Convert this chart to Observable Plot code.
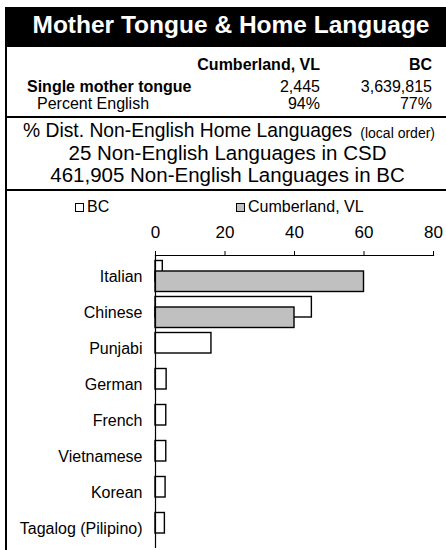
<!DOCTYPE html>
<html>
<head>
<meta charset="utf-8">
<script src="https://cdn.jsdelivr.net/npm/d3@7"></script>
<script src="https://cdn.jsdelivr.net/npm/@observablehq/plot@0.6"></script>
<style>
  html, body { margin: 0; padding: 0; background: #fff; }
  body { width: 446px; height: 550px; position: relative; overflow: hidden;
         font-family: "Liberation Sans", Arial, sans-serif; color: #000; }
  .abs { position: absolute; white-space: nowrap; line-height: 1; }
  .b { font-weight: bold; }
  .r { text-align: right; }
  .c { text-align: center; }
  #chart { position: absolute; left: 0; top: 215px; }
  .sw { display: inline-block; width: 7px; height: 7px; border: 1px solid #000; margin-right: 3px; vertical-align: 0px; }
</style>
</head>
<body>
<div id="root"></div>
<div id="chart"></div>
<script>
// ---- data ----
const title = "Mother Tongue & Home Language";
const regions = ["Cumberland, VL", "BC"];
const singleMotherTongue = [2445, 3639815];
const percentEnglish = [94, 77];
const nonEnglishLanguagesCSD = 25;
const nonEnglishLanguagesBC = 461905;
const languages = ["Italian", "Chinese", "Punjabi", "German", "French", "Vietnamese", "Korean", "Tagalog (Pilipino)"];
const bcShare = [2.1, 45, 16.1, 3.2, 3.1, 3.1, 2.9, 2.7];
const cumberlandShare = [60, 40, 0, 0, 0, 0, 0, 0];
const xTicks = [0, 20, 40, 60, 80];
const seriesColors = ["#ffffff", "#c0c0c0"]; // BC, Cumberland

// ---- header (HTML) ----
const fmt = d3.format(",");
const root = document.getElementById("root");
function add(html, style, cls) {
  const d = document.createElement("div");
  d.className = "abs " + (cls || "");
  d.innerHTML = html;
  Object.assign(d.style, style);
  root.appendChild(d);
  return d;
}
function rect(l, t, w, h, c) {
  const d = document.createElement("div");
  Object.assign(d.style, {position: "absolute", left: l + "px", top: t + "px", width: w + "px", height: h + "px", background: c});
  root.appendChild(d);
}
rect(5, 7, 441, 40, "#000");
rect(5, 7, 2, 543, "#000");
rect(5, 116, 441, 2, "#000");
rect(5, 189, 441, 2, "#000");

add(title, {left: "16px", width: "430px", top: "13.3px", fontSize: "24.5px", color: "#fff"}, "b c");

const col1Right = 446 - 320, col2Right = 446 - 432;
add(regions[0], {right: col1Right + "px", top: "56.5px", fontSize: "16px"}, "b r");
add(regions[1], {right: col2Right + "px", top: "56.5px", fontSize: "16px"}, "b r");
add("Single mother tongue", {left: "27px", top: "78.5px", fontSize: "16px"}, "b");
add(fmt(singleMotherTongue[0]), {right: col1Right + "px", top: "78.5px", fontSize: "16px"}, "r");
add(fmt(singleMotherTongue[1]), {right: col2Right + "px", top: "78.5px", fontSize: "16px"}, "r");
add("Percent English", {left: "37px", top: "96px", fontSize: "16px"});
add(percentEnglish[0] + "%", {right: col1Right + "px", top: "96px", fontSize: "16px"}, "r");
add(percentEnglish[1] + "%", {right: col2Right + "px", top: "96px", fontSize: "16px"}, "r");

add("% Dist. Non-English Home Languages", {left: "23px", top: "120.5px", fontSize: "19.3px"});
add("(local order)", {right: (446 - 435) + "px", top: "125.5px", fontSize: "14px"}, "r");
add(nonEnglishLanguagesCSD + " Non-English Languages in CSD", {left: "7px", width: "441px", top: "142.8px", fontSize: "20.5px"}, "c");
add(fmt(nonEnglishLanguagesBC) + " Non-English Languages in BC", {left: "7px", width: "441px", top: "164.8px", fontSize: "20.5px"}, "c");

// legend
add('<span class="sw" style="background:' + seriesColors[0] + '"></span>' + regions[1], {left: "75px", top: "199px", fontSize: "16px"});
add('<span class="sw" style="background:' + seriesColors[1] + '"></span>' + regions[0], {left: "236px", top: "199px", fontSize: "16px"});

// ---- chart ----
const bcRows = languages.map((l, i) => ({language: l, value: bcShare[i]}));
const cumRows = languages.map((l, i) => ({language: l, value: cumberlandShare[i]}));

const chart = Plot.plot({
  width: 446,
  height: 335,
  marginTop: 40,
  marginLeft: 155,
  marginRight: 13,
  marginBottom: 2,
  style: {fontFamily: "'Liberation Sans', Arial, sans-serif", background: "transparent", color: "#000", overflow: "visible"},
  x: {domain: [0, 80], axis: null, label: null},
  y: {domain: languages, padding: 0, axis: null, label: null},
  marks: [
    Plot.barX(bcRows, {y: "language", x: "value", fill: seriesColors[0], stroke: "#000", strokeWidth: 1.4, insetTop: 2.5, insetBottom: 13}),
    Plot.barX(cumRows, {filter: d => d.value > 0, y: "language", x: "value", fill: seriesColors[1], stroke: "#000", strokeWidth: 1.4, insetTop: 13, insetBottom: 2.5}),
    Plot.ruleX([0], {stroke: "#000", strokeWidth: 1.2}),
    Plot.frame({anchor: "top", stroke: "#000", strokeWidth: 1.2}),
    Plot.axisX({anchor: "top", ticks: xTicks, tickSize: 5, tickPadding: 13, fontSize: 17, tickFormat: d => String(d), stroke: "#000", label: null}),
    Plot.axisY({anchor: "left", tickSize: 0, tickPadding: 13, fontSize: 16, label: null})
  ]
});
document.getElementById("chart").appendChild(chart);
</script>
</body>
</html>
